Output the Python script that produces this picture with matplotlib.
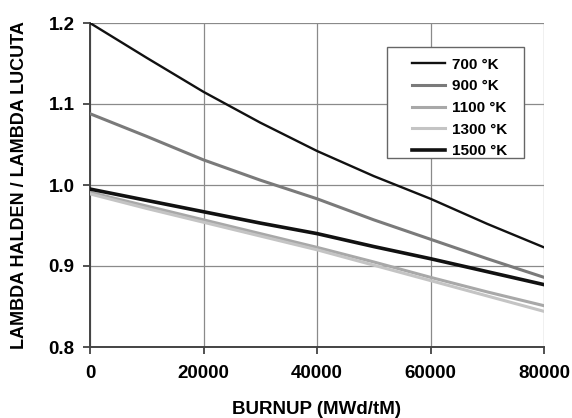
import matplotlib
matplotlib.use("Agg")
import matplotlib.pyplot as plt
from matplotlib.patches import Rectangle

# burnup grid and conductivity ratio curves per temperature
burnup = [0, 10000, 20000, 30000, 40000, 50000, 60000, 70000, 80000]
ratio_700 = [1.200, 1.157, 1.115, 1.077, 1.042, 1.011, 0.983, 0.952, 0.923]
ratio_900 = [1.088, 1.060, 1.031, 1.006, 0.983, 0.957, 0.933, 0.909, 0.886]
ratio_1100 = [0.991, 0.974, 0.957, 0.940, 0.923, 0.905, 0.886, 0.868, 0.851]
ratio_1300 = [0.989, 0.971, 0.954, 0.937, 0.920, 0.901, 0.882, 0.863, 0.844]
ratio_1500 = [0.995, 0.981, 0.967, 0.953, 0.940, 0.924, 0.909, 0.893, 0.877]

labels = ["700 °K", "900 °K", "1100 °K", "1300 °K", "1500 °K"]
x_ticks = [0, 20000, 40000, 60000, 80000]
y_ticks = [0.8, 0.9, 1.0, 1.1, 1.2]

plt.rcParams['font.family'] = ['Liberation Sans', 'DejaVu Sans']
plt.rcParams['font.weight'] = 'bold'

fig = plt.figure(figsize=(5.72, 4.18), dpi=100)
ax = fig.add_axes([90 / 572, 1 - 347 / 418, 454 / 572, 324 / 418])

series = [ratio_700, ratio_900, ratio_1100, ratio_1300, ratio_1500]
colors = ['#111111', '#7a7a7a', '#a8a8a8', '#c4c4c4', '#111111']
widths = [1.7, 2.2, 2.2, 2.2, 2.6]
for vals, lab, c, w in zip(series, labels, colors, widths):
    ax.plot(burnup, vals, color=c, lw=w, label=lab, zorder=3,
            solid_joinstyle='round')

ax.set_xlim(0, 80000)
ax.set_ylim(0.8, 1.2)
ax.set_xticks(x_ticks)
ax.set_yticks(y_ticks)
ax.set_xticklabels([str(v) for v in x_ticks])
ax.set_yticklabels(["%.1f" % v for v in y_ticks])
ax.tick_params(axis='both', labelsize=13.5, colors='#333333', labelcolor='black',
               length=5, width=1.2)
ax.tick_params(axis='x', pad=8)
ax.tick_params(axis='y', pad=6)

ax.grid(True, color='#8a8a8a', lw=0.9)
ax.set_axisbelow(True)
for side in ['top', 'right']:
    ax.spines[side].set_visible(False)
for side in ['left', 'bottom']:
    ax.spines[side].set_color('#444444')
    ax.spines[side].set_linewidth(1.4)
ax.spines['bottom'].set_zorder(4)

ax.set_xlabel("BURNUP (MWd/tM)", fontsize=13.5, fontweight='bold', labelpad=14)
ax.set_ylabel("LAMBDA HALDEN / LAMBDA LUCUTA", fontsize=13, fontweight='bold', labelpad=15)

# legend box drawn separately so the padding can be set freely
box = Rectangle((387 / 572, 1 - 158 / 418), 137 / 572, 111 / 418,
                transform=fig.transFigure, facecolor='white',
                edgecolor='#666666', lw=1.0, zorder=5)
ax.add_artist(box)
leg = ax.legend(loc='upper left', bbox_to_anchor=(404 / 572, 1 - 50 / 418),
                bbox_transform=fig.transFigure, frameon=False,
                prop={'size': 11, 'weight': 'bold'}, handlelength=2.2,
                handletextpad=0.45, labelspacing=0.5, borderpad=0.0)
leg.set_zorder(6)

fig.savefig("out.png", dpi=100)
